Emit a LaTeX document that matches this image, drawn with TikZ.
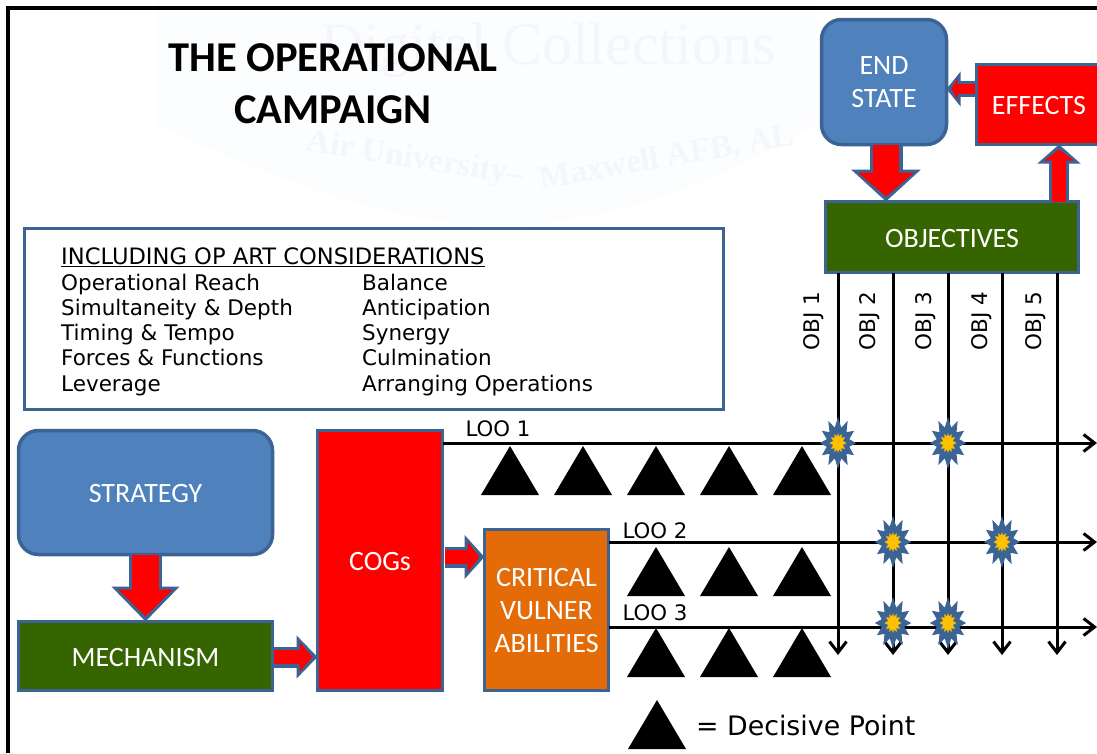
\documentclass[tikz,border=0pt]{standalone}
\usepackage{fontspec}
\setmainfont{Carlito}
\newfontfamily\listfont{DejaVu Sans}
\newfontfamily\markfont{Liberation Serif}
\usetikzlibrary{arrows.meta,shapes.geometric}
\definecolor{edgeblue}{HTML}{3B6494}
\definecolor{boxblue}{HTML}{4F81BD}
\definecolor{boxgreen}{HTML}{366500}
\definecolor{boxorange}{HTML}{E36C09}
\definecolor{starfill}{HTML}{FFC000}
\definecolor{markpale}{HTML}{F5F6F9}
\definecolor{shieldpale}{HTML}{FCFDFE}
\tikzset{
  box/.style={draw=edgeblue,line width=3.5pt,outer sep=0pt,inner sep=0pt,align=center,
    text=white,font=\fontsize{28}{33}\selectfont,execute at begin node={\rule{0pt}{21pt}}},
  redbox/.style={box,fill=red},
  greenbox/.style={box,fill=boxgreen},
  bluebox/.style={box,fill=boxblue,rounded corners=20pt},
  listline/.style={anchor=base west,inner sep=0pt,font=\listfont\fontsize{21.5}{25}\selectfont},
  loolabel/.style={anchor=center,inner sep=0pt,font=\listfont\fontsize{21.3}{24}\selectfont},
  objlabel/.style={rotate=90,inner sep=0pt,font=\listfont\fontsize{21.5}{24}\selectfont},
  gridline/.style={->,line width=3pt},
  burst/.style={star,star points=12,star point ratio=1.6,minimum size=27pt,inner sep=0pt,
    fill=starfill,draw=edgeblue,line width=4.5pt,yscale=1.35,transform shape}
}
\newcommand{\blockarrow}[5]{
\draw[edgeblue,line width=#3pt,-{Triangle[length=#5pt,width=#4pt]}](#1)--(#2);
\draw[red,line width=#3pt-6.5pt,shorten >=5pt,-{Triangle[length=#5pt-8pt,width=#4pt-13pt]}](#1)--(#2);
}
\newcommand{\decisive}[2]{
\fill(#1-29,#2)--(#1,#2-49)--(#1+29,#2)--cycle;
}
\begin{document}
\begin{tikzpicture}[x=1pt,y=-1pt,>={Straight Barb[length=11pt,width=17pt]}]
\useasboundingbox (0,0) rectangle (1097,753);
\clip (0,0) rectangle (1097,753);
\fill[white] (0,0) rectangle (1097,753);
% watermark
\fill[shieldpale] (157,0)--(157,125) .. controls (300,190) and (400,225) .. (500,225) .. controls (620,225) and (740,170) .. (815,125)--(815,0)--cycle;
\node[markpale,font=\markfont\fontsize{60}{66}\selectfont] (markone) at (548,50) {Digital Collections};
\node[markpale,rotate=-9,font=\markfont\bfseries\fontsize{33}{40}\selectfont] (marktwo) at (415,160) {Air University–};
\node[markpale,rotate=10,font=\markfont\bfseries\fontsize{33}{40}\selectfont] (markthree) at (667,158) {Maxwell AFB, AL};
% frame
\draw[line width=4pt] (1097,8)--(8,8)--(8,753);
% title
\node[font=\bfseries\fontsize{42.5}{52}\selectfont,align=center,inner sep=0pt] (title) at (333,84) {THE OPERATIONAL\\CAMPAIGN};
% list
\node[draw=edgeblue,line width=3.5pt,minimum width=699pt,minimum height=181pt,outer sep=0pt] (listbox) at (374,319) {};
\node[listline,font=\listfont\fontsize{22.6}{26}\selectfont] (head) at (61,264) {\underline{INCLUDING OP ART CONSIDERATIONS}};
\node[listline] (la) at (61,290) {Operational Reach};
\node[listline] (lb) at (61,315) {Simultaneity \& Depth};
\node[listline] (lc) at (61,340) {Timing \& Tempo};
\node[listline] (ld) at (61,365) {Forces \& Functions};
\node[listline] (le) at (61,391) {Leverage};
\node[listline] (ra) at (362,290) {Balance};
\node[listline] (rb) at (362,315) {Anticipation};
\node[listline] (rc) at (362,340) {Synergy};
\node[listline] (rd) at (362,365) {Culmination};
\node[listline] (re) at (362,391) {Arranging Operations};
% boxes
\node[bluebox,minimum width=125pt,minimum height=125pt] (endstate) at (884,82) {END\\STATE};
\node[redbox,minimum width=125pt,minimum height=80pt] (effects) at (1039,104.5) {EFFECTS};
\node[greenbox,minimum width=253pt,minimum height=71pt] (objectives) at (952,237) {OBJECTIVES};
\node[bluebox,minimum width=254pt,minimum height=124pt] (strategy) at (145.5,492.5) {STRATEGY};
\node[greenbox,minimum width=254pt,minimum height=69pt] (mechanism) at (145.5,656) {MECHANISM};
\node[redbox,minimum width=125pt,minimum height=260pt] (cogs) at (380,560.5) {COGs};
\node[box,fill=boxorange,minimum width=124pt,minimum height=161pt] (critical) at (546.5,610) {CRITICAL\\VULNER\\ABILITIES};
% lines of operation
\coordinate (rone) at (1097,443);
\coordinate (rtwo) at (1097,542);
\coordinate (rthree) at (1097,627);
\draw[gridline] (cogs.east |- rone)--(rone);
\draw[gridline] (critical.east |- rtwo)--(rtwo);
\draw[gridline] (critical.east |- rthree)--(rthree);
\foreach \i/\x in {1/838,2/893,3/948,4/1002,5/1057}
{
    \coordinate (obj\i) at (\x,655);
    \draw[gridline] (objectives.south -| obj\i)--(obj\i);
}
\node[objlabel] (oa) at (814,321) {OBJ 1};
\node[objlabel] (ob) at (870,321) {OBJ 2};
\node[objlabel] (oc) at (926,321) {OBJ 3};
\node[objlabel] (od) at (982,321) {OBJ 4};
\node[objlabel] (oe) at (1036,321) {OBJ 5};
\node[loolabel] (looa) at (498,429) {LOO 1};
\node[loolabel] (loob) at (655,531) {LOO 2};
\node[loolabel] (looc) at (655,613) {LOO 3};
\foreach \x/\y/\n in {838/443/a,948/443/b,893/542/c,1002/542/d,893/623/e,948/623/f}
{
    \node[burst] (burst\n) at (\x,\y) {};
}
% decisive points
\foreach \x in {510,583,656,729,802}
{
    \decisive{\x}{495}
}
\foreach \x in {656,729,802}
{
    \decisive{\x}{596}
    \decisive{\x}{677}
}
\decisive{657}{749}
\node[anchor=base west,inner sep=0pt,font=\listfont\fontsize{26.8}{30}\selectfont] (legend) at (696,735) {= Decisive Point};
% block arrows
\coordinate (endin) at (886,146);
\coordinate (effin) at (1059,148);
\coordinate (endleft) at (975,89);
\coordinate (coga) at (445,557);
\coordinate (mecha) at (274,657);
\blockarrow{endstate.south -| endin}{objectives.north -| endin}{33}{68}{32}
\blockarrow{endleft}{endstate.east |- endleft}{16}{34}{14}
\blockarrow{objectives.north -| effin}{effects.south -| effin}{20}{42}{19}
\blockarrow{strategy.south}{mechanism.north}{33}{66}{35}
\blockarrow{mecha}{cogs.west |- mecha}{21}{42}{21}
\blockarrow{coga}{critical.west |- coga}{21}{43}{20}
\end{tikzpicture}
\end{document}
